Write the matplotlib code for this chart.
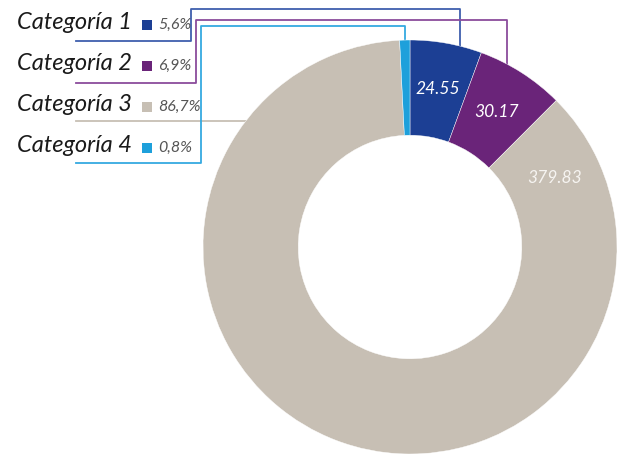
import numpy as np
import matplotlib.pyplot as plt

categories = ["Categoría 1", "Categoría 2", "Categoría 3", "Categoría 4"]
values = [24.55, 30.17, 379.83, 3.5]
pct_labels = ["5,6%", "6,9%", "86,7%", "0,8%"]
value_labels = ["24.55", "30.17", "379.83", ""]
colors = ["#1c3f94", "#6a2479", "#c7bfb4", "#1ea0db"]
line_colors = ["#3f5fae", "#8b4c9c", "#c7bfb4", "#35a9e0"]

W, H = 625, 454
fig = plt.figure(figsize=(W / 100, H / 100), dpi=100)

# overlay in pixel coords for the legend + leader lines
ov = fig.add_axes([0, 0, 1, 1])
ov.set_xlim(0, W)
ov.set_ylim(H, 0)
ov.axis("off")

# donut
cx, cy, R = 410, 247, 207
ax = fig.add_axes([(cx - R) / W, 1 - (cy + R) / H, 2 * R / W, 2 * R / H])
wedges, _ = ax.pie(values, colors=colors, startangle=90, counterclock=False,
                   radius=1, wedgeprops=dict(width=0.46, edgecolor="white", linewidth=0.3))
ax.set_xlim(-1, 1)
ax.set_ylim(-1, 1)
ax.set_aspect("equal")
ax.axis("off")

# value labels inside the ring
total = sum(values)
label_pos = [0.5, 0.5, 0.063, 0.5]  # fraction along each wedge
start = 0.0
for i, v in enumerate(values):
    span = v / total * 360
    if value_labels[i]:
        ang = np.deg2rad(90 - (start + label_pos[i] * span))
        ax.text(0.775 * np.cos(ang), 0.775 * np.sin(ang), value_labels[i],
                ha="center", va="center", fontsize=12.5, style="italic",
                family=["Lato", "DejaVu Sans"],
                color="white" if i < 2 else "#f6f4f1")
    start += span

# legend rows
rows_y = [29, 70, 111, 152]
under_y = [41, 83, 121, 163]
corner_x = [191, 196, None, 201]
top_y = [9, 20, None, 26]
drop_x = [460, 507, None, 405]

for i, cat in enumerate(categories):
    y = rows_y[i]
    ov.text(17, y, cat, fontsize=17, style="italic", color="#1a1a1a",
            family=["Lato", "DejaVu Sans"], va="baseline", ha="left")
    ov.add_patch(plt.Rectangle((142, y - 9.5), 10, 10, color=colors[i], lw=0))
    ov.text(158, y, pct_labels[i], fontsize=11.5, style="italic",
            color="#555555", family=["Lato", "DejaVu Sans"], va="baseline", ha="left")

    uy = under_y[i]
    if corner_x[i] is None:
        edge_x = cx - np.sqrt(R ** 2 - (cy - uy) ** 2)
        ov.plot([76, edge_x], [uy, uy], color=line_colors[i], lw=1.3)
    else:
        dx = drop_x[i]
        edge_y = cy - np.sqrt(R ** 2 - (dx - cx) ** 2)
        ov.plot([76, corner_x[i], corner_x[i], dx, dx],
                [uy, uy, top_y[i], top_y[i], edge_y + 2],
                color=line_colors[i], lw=1.3)

fig.savefig("out.png", dpi=100)
